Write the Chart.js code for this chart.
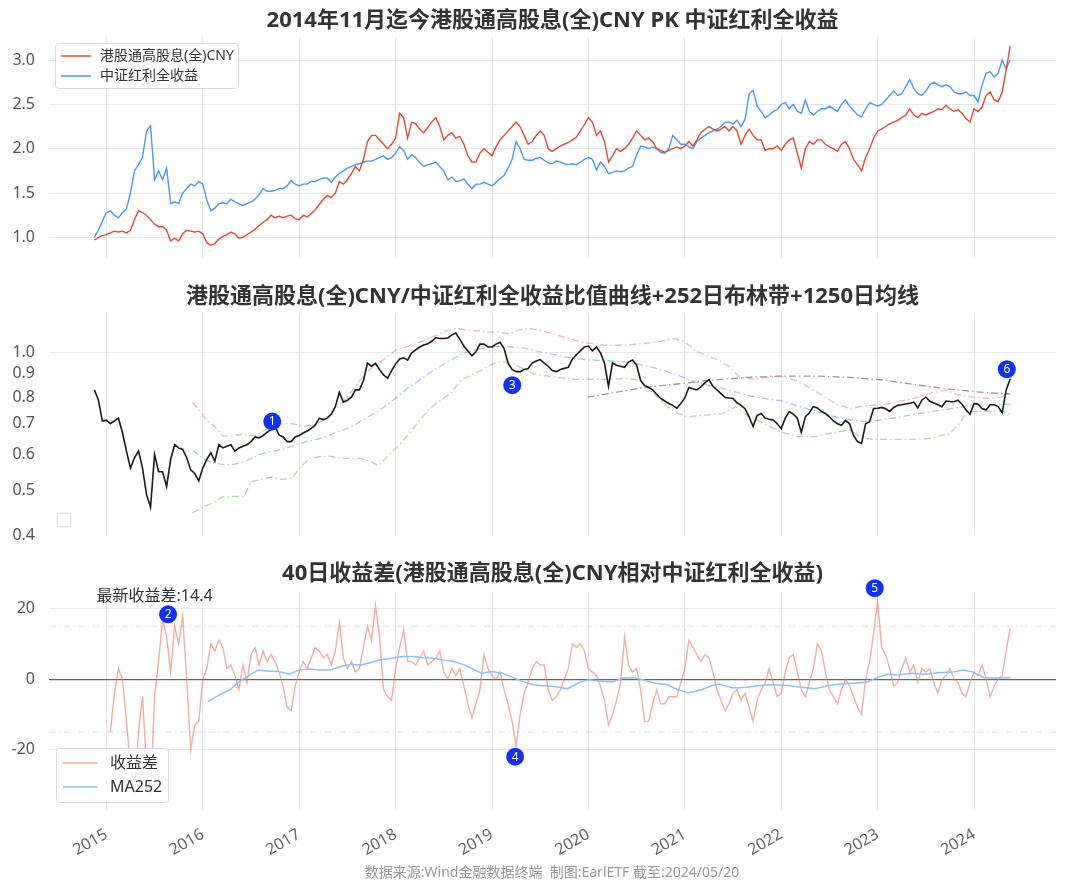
<!DOCTYPE html>
<html>
<head>
<meta charset="utf-8">
<script src="https://cdn.jsdelivr.net/npm/chart.js@4.4.1/dist/chart.umd.min.js"></script>
<style>
  body { margin: 0; background: #fff; width: 1080px; height: 888px; position: relative; overflow: hidden; }
  canvas { position: absolute; left: 0; }
</style>
</head>
<body>
<canvas id="c1" width="1080" height="265" style="top:0px"></canvas>
<canvas id="c2" width="1080" height="280" style="top:265px"></canvas>
<canvas id="c3" width="1080" height="343" style="top:545px"></canvas>
<script>
"use strict";

// semi-monthly samples from 2014-11 to 2024-05-20
const T0 = 2014.875;
const STEP = 1 / 24;
const yearTicks = [2015, 2016, 2017, 2018, 2019, 2020, 2021, 2022, 2023, 2024];

const hkDividend = [
  0.97, 1.0, 1.02, 1.03, 1.05, 1.07, 1.06, 1.07, 1.05, 1.08,
  1.2, 1.3, 1.28, 1.25, 1.2, 1.15, 1.12, 1.12, 1.08, 0.96,
  0.99, 0.96, 1.04, 1.08, 1.07, 1.06, 1.07, 1.04, 0.94, 0.91,
  0.93, 0.98, 1.01, 1.03, 1.06, 1.04, 0.99, 1.0, 1.03, 1.06,
  1.09, 1.13, 1.17, 1.2, 1.25, 1.22, 1.24, 1.22, 1.24, 1.25,
  1.21, 1.2, 1.25, 1.23, 1.27, 1.31, 1.37, 1.43, 1.47, 1.45,
  1.5, 1.63, 1.6, 1.65, 1.72, 1.8, 1.75, 1.88, 2.08, 2.15,
  2.15, 2.1, 2.05, 2.0, 2.05, 2.12, 2.4, 2.35, 2.12, 2.3,
  2.28, 2.22, 2.18, 2.24, 2.3, 2.35, 2.25, 2.1, 2.15, 2.18,
  2.12, 2.14, 2.05, 1.92, 1.85, 1.85, 1.95, 2.0, 1.96, 1.92,
  2.02, 2.1, 2.15, 2.2, 2.25, 2.3, 2.25, 2.15, 2.05, 2.08,
  2.15, 2.2, 2.15, 2.0, 1.97, 2.0, 2.03, 2.05, 2.07, 2.1,
  2.13, 2.2, 2.27, 2.35, 2.3, 2.15, 2.2, 2.08, 1.85, 1.92,
  2.0, 1.97, 2.0, 2.05, 2.12, 2.2, 2.15, 2.1, 2.12, 2.08,
  2.0, 1.98, 1.96, 1.98, 2.0, 2.02, 2.0, 2.03, 2.08, 2.03,
  2.1, 2.18, 2.22, 2.25, 2.22, 2.2, 2.22, 2.25, 2.2, 2.25,
  2.2, 2.05, 2.15, 2.22, 2.15, 2.1, 2.1, 1.98, 2.0, 2.0,
  2.03, 1.98, 2.05, 2.1, 2.12, 1.95, 1.78, 2.0, 2.08, 2.05,
  2.1, 2.1, 2.05, 2.02, 2.0, 1.97, 2.05, 2.08, 2.0, 1.88,
  1.82, 1.75, 1.9, 2.0, 2.12, 2.2, 2.22, 2.25, 2.28, 2.3,
  2.32, 2.35, 2.38, 2.45, 2.38, 2.35, 2.4, 2.38, 2.4, 2.42,
  2.45, 2.44, 2.49, 2.45, 2.42, 2.44, 2.4, 2.34, 2.3, 2.45,
  2.42, 2.47, 2.6, 2.64, 2.55, 2.53, 2.64, 2.89, 3.16
];

const csiDividend = [
  1.0, 1.08, 1.18, 1.28, 1.3, 1.25, 1.22, 1.28, 1.32, 1.5,
  1.75, 1.82, 1.9, 2.2, 2.26, 1.65, 1.75, 1.65, 1.78, 1.38,
  1.4, 1.38, 1.5, 1.55, 1.6, 1.58, 1.63, 1.6, 1.42, 1.3,
  1.33, 1.38, 1.39, 1.38, 1.43, 1.4, 1.38, 1.36, 1.38, 1.4,
  1.43, 1.48, 1.55, 1.52, 1.52, 1.53, 1.55, 1.55, 1.58, 1.64,
  1.6, 1.58, 1.6, 1.6, 1.63, 1.63, 1.65, 1.67, 1.67, 1.62,
  1.68, 1.72, 1.75, 1.78, 1.8, 1.82, 1.83, 1.85, 1.86, 1.86,
  1.88, 1.9, 1.92, 1.88, 1.9, 1.95, 2.02, 1.98, 1.88, 1.93,
  1.9, 1.84, 1.8, 1.82, 1.83, 1.85, 1.8, 1.75, 1.65, 1.68,
  1.63, 1.64, 1.66, 1.6, 1.55, 1.6, 1.6, 1.62, 1.6, 1.58,
  1.62, 1.66, 1.7, 1.78, 1.88, 2.08, 2.0, 1.88, 1.87, 1.87,
  1.89, 1.9, 1.87, 1.84, 1.83, 1.86, 1.85, 1.83, 1.82, 1.83,
  1.82, 1.85, 1.88, 1.9, 1.88, 1.76, 1.85, 1.8, 1.72, 1.73,
  1.75, 1.74, 1.75, 1.78, 1.8, 1.93, 2.03, 2.02, 2.0, 2.02,
  2.0, 1.96, 1.95, 2.0, 2.15, 2.1, 2.05, 2.05, 2.02, 2.0,
  2.08, 2.12, 2.15, 2.18, 2.2, 2.22, 2.25, 2.3, 2.3, 2.28,
  2.32, 2.25, 2.33, 2.62, 2.66, 2.48, 2.42, 2.35, 2.38, 2.42,
  2.44, 2.5, 2.52, 2.45, 2.5, 2.42, 2.4, 2.55, 2.42, 2.38,
  2.42, 2.45, 2.45, 2.48, 2.45, 2.42, 2.5, 2.55, 2.48, 2.43,
  2.38, 2.36, 2.45, 2.52, 2.5, 2.48, 2.5, 2.55, 2.6, 2.65,
  2.6, 2.62, 2.7, 2.78, 2.68, 2.62, 2.6, 2.65, 2.72, 2.75,
  2.72, 2.7, 2.72, 2.7, 2.64, 2.62, 2.62, 2.64, 2.6, 2.6,
  2.53, 2.72, 2.85, 2.87, 2.81, 2.85, 3.0, 2.9, 3.0
];

const ratio = [
  0.83, 0.79, 0.71, 0.713, 0.70, 0.71, 0.72, 0.67, 0.61, 0.56,
  0.59, 0.61, 0.56, 0.49, 0.46, 0.60, 0.55, 0.55, 0.51, 0.585,
  0.63, 0.62, 0.615, 0.59, 0.555, 0.545, 0.525, 0.56, 0.585, 0.605,
  0.58, 0.63, 0.62, 0.625, 0.63, 0.61, 0.62, 0.625, 0.63, 0.64,
  0.655, 0.652, 0.66, 0.67, 0.68, 0.69, 0.662, 0.655, 0.64, 0.64,
  0.655, 0.66, 0.668, 0.675, 0.684, 0.695, 0.72, 0.715, 0.72, 0.735,
  0.763, 0.82, 0.78, 0.788, 0.80, 0.83, 0.83, 0.87, 0.95, 0.935,
  0.948, 0.92, 0.895, 0.88, 0.915, 0.945, 0.97, 0.975, 0.964, 1.0,
  1.015, 1.03, 1.04, 1.047, 1.06, 1.08, 1.075, 1.075, 1.078, 1.095,
  1.105, 1.07, 1.035, 1.01, 0.985, 1.005, 1.045, 1.045, 1.03, 1.03,
  1.045, 1.055, 1.022, 0.95, 0.92, 0.91, 0.91, 0.92, 0.924, 0.95,
  0.96, 0.967, 0.95, 0.935, 0.915, 0.91, 0.92, 0.925, 0.93, 0.97,
  0.99, 1.01, 1.03, 1.035, 1.01, 1.03, 1.0, 0.95, 0.845, 0.95,
  0.94, 0.935, 0.93, 0.955, 0.965, 0.94, 0.87, 0.848, 0.84, 0.83,
  0.812, 0.795, 0.785, 0.775, 0.768, 0.757, 0.775, 0.797, 0.84, 0.835,
  0.83, 0.843, 0.86, 0.875, 0.845, 0.83, 0.815, 0.80, 0.797, 0.795,
  0.778, 0.768, 0.755, 0.725, 0.69, 0.73, 0.737, 0.72, 0.716, 0.713,
  0.70, 0.683, 0.72, 0.744, 0.735, 0.72, 0.67, 0.725, 0.74, 0.763,
  0.758, 0.745, 0.737, 0.725, 0.71, 0.70, 0.695, 0.712, 0.70, 0.66,
  0.64, 0.634, 0.70, 0.707, 0.756, 0.757, 0.76, 0.755, 0.745, 0.76,
  0.768, 0.77, 0.773, 0.776, 0.78, 0.758, 0.788, 0.80, 0.784, 0.777,
  0.77, 0.763, 0.785, 0.783, 0.782, 0.788, 0.772, 0.75, 0.735, 0.775,
  0.772, 0.756, 0.75, 0.77, 0.77, 0.763, 0.74, 0.83, 0.878
];

// 252-day bollinger band and 1250-day mean of the ratio
const upperYears = [2015.893, 2015.964, 2016.036, 2016.125, 2016.214, 2016.321, 2016.429, 2016.536, 2016.607, 2016.714,
  2016.821, 2016.929, 2017.036, 2017.143, 2017.25, 2017.357, 2017.464, 2017.571, 2017.679, 2017.786,
  2017.893, 2018.0, 2018.107, 2018.214, 2018.321, 2018.429, 2018.536, 2018.643, 2018.75, 2018.857,
  2018.964, 2019.071, 2019.179, 2019.286, 2019.393, 2019.501, 2019.679, 2019.857, 2020.0, 2020.178,
  2020.392, 2020.57, 2020.749, 2020.891, 2020.998, 2021.105, 2021.212, 2021.355, 2021.462, 2021.569,
  2021.711, 2021.854, 2021.996, 2022.139, 2022.282, 2022.424, 2022.567, 2022.709, 2022.852, 2022.995,
  2023.137, 2023.28, 2023.422, 2023.565, 2023.708, 2023.85, 2023.993, 2024.135, 2024.278, 2024.378];
const upperBand = [0.78, 0.75, 0.713, 0.69, 0.658, 0.66, 0.665, 0.658, 0.672, 0.69,
  0.70, 0.70, 0.693, 0.693, 0.713, 0.744, 0.788, 0.836, 0.90, 0.94,
  0.972, 1.013, 1.03, 1.048, 1.07, 1.093, 1.12, 1.13, 1.12, 1.117,
  1.11, 1.11, 1.10, 1.124, 1.13, 1.12, 1.093, 1.066, 1.05, 1.039,
  1.039, 1.048, 1.06, 1.075, 1.057, 1.013, 0.988, 0.964, 0.932, 0.884,
  0.876, 0.884, 0.89, 0.872, 0.843, 0.808, 0.773, 0.756, 0.765, 0.77,
  0.775, 0.788, 0.80, 0.818, 0.829, 0.808, 0.80, 0.795, 0.80, 0.815];

const midYears = [2015.893, 2016.0, 2016.1, 2016.214, 2016.321, 2016.429, 2016.536, 2016.643, 2016.75, 2016.857,
  2016.964, 2017.071, 2017.179, 2017.286, 2017.393, 2017.5, 2017.6, 2017.714, 2017.821, 2017.929,
  2018.036, 2018.143, 2018.25, 2018.357, 2018.464, 2018.571, 2018.679, 2018.786, 2018.893, 2019.0,
  2019.1, 2019.214, 2019.321, 2019.429, 2019.501, 2019.679, 2019.857, 2020.036, 2020.214, 2020.392,
  2020.57, 2020.749, 2020.927, 2021.105, 2021.283, 2021.462, 2021.64, 2021.818, 2021.996, 2022.175,
  2022.353, 2022.531, 2022.709, 2022.888, 2023.066, 2023.244, 2023.422, 2023.601, 2023.779, 2023.886,
  2023.993, 2024.135, 2024.278, 2024.378];
const midBand = [0.613, 0.588, 0.575, 0.57, 0.571, 0.578, 0.593, 0.605, 0.611, 0.618,
  0.629, 0.64, 0.647, 0.656, 0.672, 0.684, 0.701, 0.725, 0.746, 0.775,
  0.808, 0.843, 0.872, 0.905, 0.935, 0.964, 0.993, 1.01, 1.022, 1.03,
  1.034, 1.03, 1.025, 1.013, 1.005, 0.988, 0.972, 0.964, 0.961, 0.956,
  0.94, 0.92, 0.894, 0.864, 0.846, 0.829, 0.808, 0.795, 0.786, 0.765,
  0.747, 0.727, 0.715, 0.707, 0.715, 0.725, 0.737, 0.747, 0.756, 0.763,
  0.773, 0.773, 0.771, 0.773];

const lowerYears = [2015.893, 2016.0, 2016.1, 2016.214, 2016.321, 2016.429, 2016.5, 2016.607, 2016.714, 2016.821,
  2016.929, 2017.0, 2017.107, 2017.214, 2017.321, 2017.429, 2017.536, 2017.643, 2017.75, 2017.821,
  2017.929, 2018.036, 2018.143, 2018.25, 2018.357, 2018.464, 2018.571, 2018.679, 2018.786, 2018.893,
  2019.0, 2019.1, 2019.214, 2019.321, 2019.429, 2019.501, 2019.679, 2019.857, 2020.036, 2020.214,
  2020.392, 2020.535, 2020.677, 2020.82, 2020.927, 2021.034, 2021.212, 2021.39, 2021.533, 2021.64,
  2021.818, 2021.996, 2022.175, 2022.353, 2022.531, 2022.709, 2022.852, 2022.995, 2023.173, 2023.351,
  2023.529, 2023.743, 2023.85, 2023.922, 2024.064, 2024.207, 2024.314, 2024.378];
const lowerBand = [0.447, 0.46, 0.47, 0.485, 0.486, 0.486, 0.523, 0.529, 0.535, 0.529,
  0.532, 0.559, 0.588, 0.593, 0.595, 0.588, 0.588, 0.588, 0.578, 0.567,
  0.598, 0.629, 0.667, 0.713, 0.756, 0.788, 0.815, 0.872, 0.894, 0.917,
  0.945, 0.957, 0.948, 0.924, 0.90, 0.894, 0.884, 0.875, 0.876, 0.875,
  0.879, 0.872, 0.815, 0.763, 0.737, 0.725, 0.731, 0.737, 0.763, 0.731,
  0.701, 0.672, 0.656, 0.656, 0.669, 0.678, 0.65, 0.647, 0.647, 0.647,
  0.65, 0.665, 0.701, 0.744, 0.744, 0.746, 0.744, 0.731];

const ma1250Years = [2019.989, 2020.214, 2020.57, 2020.927, 2021.283, 2021.64, 2021.996, 2022.353, 2022.709, 2023.066,
  2023.422, 2023.779, 2024.135, 2024.378];
const ma1250 = [0.80, 0.815, 0.84, 0.855, 0.872, 0.884, 0.89, 0.89, 0.884, 0.872,
  0.85, 0.832, 0.818, 0.813];

// 40-day return spread, starts at sample 4
const SPREAD_START = 4;
const spread = [
  -15, -4, 3, 0, -12, -25, -32, -15, -5, -25,
  -33, -5, 5, 17, 12, 2, 15, 10, 18, 0,
  -20, -13, -12, 0, 3, 10, 8, 11, 9, 3,
  4, 1, -3, 4, -1, 7, 9, 4, 8, 5,
  7, 5, 2, -2, -8, -9, -2, 2, 5, 3,
  6, 9, 8, 6, 7, 4, 8, 16, 6, 3,
  5, 2, 3, 9, 15, 11, 21, 12, -3, -5,
  -6, 3, 9, 14, 5, 5, 4, 6, 8, 4,
  5, 6, 8, 2, 0, 3, 1, 3, -2, -7,
  -11, -7, -3, 7, 3, 1, 0, 2, -3, -7,
  -12, -19, -10, -4, -1, 3, 5, 4, 4, -3,
  -6, -5, -3, 0, 3, 10, 9, 10, 8, 3,
  2, 1, -2, -6, -13, -10, -6, -1, 12, 4,
  2, 3, -3, -12, -12, -7, -3, -7, -7, -5,
  -5, -5, -1, 3, 11, 9, 7, 5, 7, 6,
  2, -3, -6, -9, -7, -4, -3, -6, -4, -8,
  -12, -6, -3, -1, 3, -1, -5, -4, 2, 6,
  7, 2, -3, -5, -1, 3, 10, 8, 2, -3,
  -5, -7, -3, 0, -2, -5, -8, -10, 0, 5,
  13, 22, 9, 7, 3, -2, -1, 3, 6, 2,
  4, -1, 3, 2, 3, -1, -4, 0, 1, 3,
  0, -1, -4, -5, -1, 2, 1, 4, 0, -5,
  -2, 0, 1, 8, 14.4
];

const ma252Years = [2016.054, 2016.179, 2016.286, 2016.357, 2016.464, 2016.571, 2016.679, 2016.786, 2016.893, 2017.0,
  2017.107, 2017.214, 2017.321, 2017.429, 2017.536, 2017.643, 2017.75, 2017.857, 2017.964, 2018.071,
  2018.179, 2018.286, 2018.393, 2018.5, 2018.607, 2018.714, 2018.821, 2018.893, 2019.0, 2019.107,
  2019.214, 2019.321, 2019.429, 2019.501, 2019.643, 2019.786, 2019.893, 2020.0, 2020.107, 2020.25,
  2020.357, 2020.463, 2020.57, 2020.677, 2020.82, 2020.927, 2021.034, 2021.176, 2021.283, 2021.355,
  2021.497, 2021.64, 2021.783, 2021.925, 2022.068, 2022.21, 2022.353, 2022.496, 2022.638, 2022.781,
  2022.888, 2022.995, 2023.102, 2023.209, 2023.351, 2023.494, 2023.636, 2023.779, 2023.886, 2023.993,
  2024.1, 2024.242, 2024.378];
const ma252 = [-6.3, -4.4, -3.0, -1.1, 0.8, 2.6, 2.3, 2.2, 1.4, 2.6,
  2.9, 2.6, 2.6, 3.6, 4.2, 4.0, 4.8, 5.6, 5.9, 6.4,
  6.4, 6.1, 5.9, 5.4, 5.0, 4.0, 2.6, 1.7, 2.2, 1.7,
  0.5, -0.7, -1.6, -1.8, -2.1, -2.7, -1.1, -0.2, -0.5, -0.8,
  0.3, 0.5, -0.2, -1.1, -1.6, -3.0, -3.9, -3.0, -1.8, -1.4,
  -2.5, -2.3, -1.8, -1.6, -1.8, -2.3, -2.7, -1.8, -1.3, -1.1,
  -0.9, 0.5, 1.4, 1.2, 1.7, 1.4, 1.8, 2.0, 2.6, 2.0,
  0.5, 0.3, 0.5];

const spreadBands = [15, -15];
const ratioMarks = [{ n: 1, x: 2016.72, y: 0.708 }, { n: 3, x: 2019.21, y: 0.85 }, { n: 6, x: 2024.34, y: 0.921 }];
const spreadMarks = [{ n: 2, x: 2015.64, y: 18.4 }, { n: 4, x: 2019.24, y: -22 }, { n: 5, x: 2022.97, y: 25.8 }];
const latestSpread = 14.4;

const X_MIN = 2014.405;
const X_MAX = 2024.85;
const FONT = "'Noto Sans', 'Noto Sans CJK SC', sans-serif";
const GRID = "#e8e8e8";

Chart.defaults.font.family = FONT;
Chart.defaults.color = "#555";
Chart.defaults.animation = false;
Chart.defaults.devicePixelRatio = 1;

const sampleX = (i) => T0 + i * STEP;
const pts = (xs, ys) => ys.map((y, i) => ({ x: xs[i], y }));
const seq = (ys, start) => ys.map((y, i) => ({ x: sampleX(i + (start || 0)), y }));
const DASHDOT = [7, 3, 1.5, 3];

// fixed axis sizes so the three panels line up
function fitY(s) {
  s.width = 49;
  s.paddingTop = 0;
  s.paddingBottom = 0;
}

function xAxis(labels) {
  return {
    type: "linear",
    min: X_MIN,
    max: X_MAX,
    afterBuildTicks: (s) => { s.ticks = yearTicks.map((v) => ({ value: v })); },
    afterFit: (s) => {
      s.height = labels ? 62 : 0;
      s.paddingLeft = 0;
      s.paddingRight = 0;
    },
    grid: { color: GRID, drawTicks: false },
    border: { display: false },
    ticks: {
      display: labels,
      padding: 15,
      minRotation: 30,
      maxRotation: 30,
      font: { size: 16 },
      color: "#666",
      callback: (v) => String(v),
    },
  };
}

function roundBox(ctx, x, y, w, h, r) {
  ctx.beginPath();
  ctx.roundRect(x, y, w, h, r);
  ctx.fillStyle = "rgba(255,255,255,0.85)";
  ctx.fill();
  ctx.strokeStyle = "#d9d9d9";
  ctx.lineWidth = 1;
  ctx.stroke();
}

function drawTitle(chart, text, y) {
  const { ctx, chartArea: a } = chart;
  ctx.font = "bold 22px " + FONT;
  ctx.fillStyle = "#333";
  ctx.textAlign = "center";
  ctx.textBaseline = "middle";
  ctx.fillText(text, (a.left + a.right) / 2, y);
}

function drawMarks(chart, marks) {
  const { ctx, scales } = chart;
  marks.forEach((m) => {
    const px = scales.x.getPixelForValue(m.x);
    const py = scales.y.getPixelForValue(m.y);
    ctx.beginPath();
    ctx.arc(px, py, 9, 0, Math.PI * 2);
    ctx.fillStyle = "#1233ee";
    ctx.fill();
    ctx.font = "12px " + FONT;
    ctx.fillStyle = "#fff";
    ctx.textAlign = "center";
    ctx.textBaseline = "middle";
    ctx.fillText(String(m.n), px, py + 0.5);
  });
}

function drawLegend(chart, items, box, rows, fontSize) {
  const { ctx } = chart;
  roundBox(ctx, box[0], box[1], box[2], box[3], 3);
  ctx.font = fontSize + "px " + FONT;
  ctx.textAlign = "left";
  ctx.textBaseline = "middle";
  items.forEach((it, i) => {
    const y = rows.y[i];
    ctx.beginPath();
    ctx.moveTo(rows.x0, y);
    ctx.lineTo(rows.x1, y);
    ctx.strokeStyle = it.color;
    ctx.lineWidth = 1.5;
    ctx.stroke();
    ctx.fillStyle = "#333";
    ctx.fillText(it.label, rows.tx, y);
  });
}

// ---- chart 1: the two total return indices
const RED = "#e24a33";
const BLUE = "#4a98f0";

new Chart(document.getElementById("c1"), {
  type: "line",
  data: {
    datasets: [
      { label: "港股通高股息(全)CNY", data: seq(hkDividend), borderColor: RED, borderWidth: 1.4 },
      { label: "中证红利全收益", data: seq(csiDividend), borderColor: BLUE, borderWidth: 1.4 },
    ],
  },
  options: {
    responsive: false,
    layout: { padding: { top: 37, bottom: 7, left: 0, right: 24 } },
    elements: { point: { radius: 0 }, line: { tension: 0 } },
    plugins: { legend: { display: false }, tooltip: { enabled: false } },
    scales: {
      x: xAxis(false),
      y: {
        min: 0.767,
        max: 3.26,
        afterBuildTicks: (s) => { s.ticks = [1.0, 1.5, 2.0, 2.5, 3.0].map((v) => ({ value: v })); },
        afterFit: fitY,
        grid: { color: GRID, drawTicks: false },
        border: { display: false },
        ticks: { padding: 14, font: { size: 16 }, color: "#555", callback: (v) => v.toFixed(1) },
      },
    },
  },
  plugins: [{
    id: "decor1",
    afterDraw(chart) {
      const ctx = chart.ctx;
      ctx.save();
      drawTitle(chart, "2014年11月迄今港股通高股息(全)CNY PK 中证红利全收益", 21);
      drawLegend(chart, chart.data.datasets.map((d) => ({ label: d.label, color: d.borderColor })),
        [55.5, 43.5, 183, 45], { y: [56, 76], x0: 61, x1: 91, tx: 100 }, 14);
      ctx.restore();
    },
  }],
});

// ---- chart 2: ratio with bands
new Chart(document.getElementById("c2"), {
  type: "line",
  data: {
    datasets: [
      { label: "比值", data: seq(ratio), borderColor: "#1a1a1a", borderWidth: 1.6 },
      { label: "上轨", data: pts(upperYears, upperBand), borderColor: "rgba(232,120,110,0.55)", borderWidth: 1.3, borderDash: DASHDOT },
      { label: "中轨", data: pts(midYears, midBand), borderColor: "rgba(110,170,240,0.65)", borderWidth: 1.3, borderDash: DASHDOT },
      { label: "下轨", data: pts(lowerYears, lowerBand), borderColor: "rgba(120,190,110,0.6)", borderWidth: 1.3, borderDash: DASHDOT },
      { label: "MA1250", data: pts(ma1250Years, ma1250), borderColor: "rgba(110,110,110,0.7)", borderWidth: 1.3, borderDash: DASHDOT },
    ],
  },
  options: {
    responsive: false,
    layout: { padding: { top: 49, bottom: 10, left: 0, right: 24 } },
    elements: { point: { radius: 0 }, line: { tension: 0 } },
    plugins: { legend: { display: false }, tooltip: { enabled: false } },
    scales: {
      x: xAxis(false),
      y: {
        type: "logarithmic",
        min: 0.4,
        max: 1.216,
        afterBuildTicks: (s) => { s.ticks = [0.4, 0.5, 0.6, 0.7, 0.8, 0.9, 1.0].map((v) => ({ value: v })); },
        afterFit: fitY,
        grid: { color: (c) => (c.tick && c.tick.value === 1 ? GRID : "rgba(0,0,0,0)"), drawTicks: false },
        border: { display: false },
        ticks: { padding: 14, font: { size: 16 }, color: "#555", callback: (v) => Number(v).toFixed(1) },
      },
    },
  },
  plugins: [{
    id: "decor2",
    afterDraw(chart) {
      const { ctx, chartArea: a } = chart;
      ctx.save();
      drawTitle(chart, "港股通高股息(全)CNY/中证红利全收益比值曲线+252日布林带+1250日均线", 32);
      roundBox(ctx, a.left + 8, a.bottom - 22, 14, 14, 3);
      drawMarks(chart, ratioMarks);
      ctx.restore();
    },
  }],
});

// ---- chart 3: 40-day return spread
new Chart(document.getElementById("c3"), {
  type: "line",
  data: {
    datasets: [
      { label: "MA252", data: pts(ma252Years, ma252), borderColor: "#8cc2f5", borderWidth: 1.5 },
      { label: "收益差", data: seq(spread, SPREAD_START), borderColor: "rgba(230,120,105,0.6)", borderWidth: 1.4 },
    ],
  },
  options: {
    responsive: false,
    layout: { padding: { top: 46, bottom: 16, left: 0, right: 24 } },
    elements: { point: { radius: 0 }, line: { tension: 0 } },
    plugins: { legend: { display: false }, tooltip: { enabled: false } },
    scales: {
      x: xAxis(true),
      y: {
        min: -37.1,
        max: 25,
        afterBuildTicks: (s) => { s.ticks = [-20, 0, 20].map((v) => ({ value: v })); },
        afterFit: fitY,
        grid: {
          color: (c) => (c.tick && c.tick.value === 0 ? "#666" : GRID),
          lineWidth: (c) => (c.tick && c.tick.value === 0 ? 1.2 : 1),
          drawTicks: false,
        },
        border: { display: false },
        ticks: { padding: 14, font: { size: 16 }, color: "#555", callback: (v) => String(v) },
      },
    },
  },
  plugins: [{
    id: "decor3",
    beforeDatasetsDraw(chart) {
      const { ctx, chartArea: a, scales } = chart;
      ctx.save();
      ctx.setLineDash(DASHDOT);
      ctx.lineWidth = 1.2;
      spreadBands.forEach((v) => {
        const py = scales.y.getPixelForValue(v);
        ctx.strokeStyle = v > 0 ? "rgba(240,150,150,0.4)" : "rgba(140,190,240,0.35)";
        ctx.beginPath();
        ctx.moveTo(a.left, py);
        ctx.lineTo(a.right, py);
        ctx.stroke();
      });
      ctx.restore();
    },
    afterDraw(chart) {
      const { ctx, scales } = chart;
      ctx.save();
      drawTitle(chart, "40日收益差(港股通高股息(全)CNY相对中证红利全收益)", 29);
      ctx.font = "16px " + FONT;
      ctx.fillStyle = "#333";
      ctx.textAlign = "center";
      ctx.textBaseline = "middle";
      ctx.fillText("最新收益差:" + latestSpread, scales.x.getPixelForValue(2015.5), scales.y.getPixelForValue(23.5));
      const ds = chart.data.datasets;
      drawLegend(chart, [{ label: ds[1].label, color: ds[1].borderColor }, { label: ds[0].label, color: ds[0].borderColor }],
        [56.5, 203.5, 112, 54], { y: [218, 242], x0: 63, x1: 98, tx: 110 }, 16);
      drawMarks(chart, spreadMarks);
      ctx.font = "14px " + FONT;
      ctx.fillStyle = "#999";
      ctx.textAlign = "center";
      ctx.fillText("数据来源:Wind金融数据终端  制图:EarlETF 截至:2024/05/20", 552, 328);
      ctx.restore();
    },
  }],
});
</script>
</body>
</html>
